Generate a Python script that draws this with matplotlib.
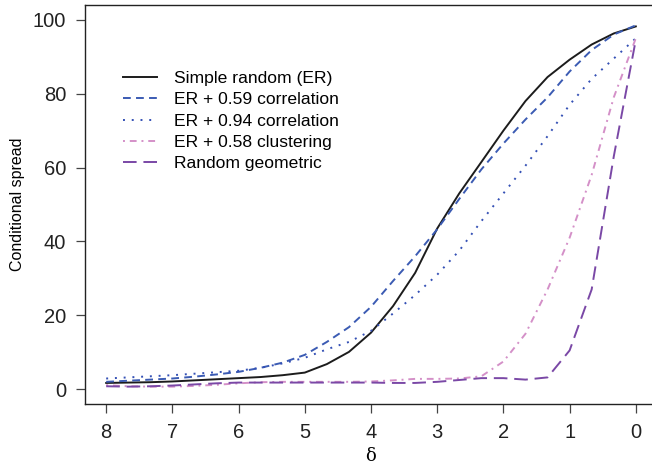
import matplotlib.pyplot as plt

# delta grid, high to low (axis is reversed), step 1/3
delta = [8, 7.667, 7.333, 7, 6.667, 6.333, 6, 5.667, 5.333, 5, 4.667, 4.333,
         4, 3.667, 3.333, 3, 2.667, 2.333, 2, 1.667, 1.333, 1, 0.667, 0.333, 0]

er_simple = [1.7, 1.8, 1.9, 2.1, 2.4, 2.7, 3.0, 3.3, 3.8, 4.5, 6.8, 10.1,
             15.3, 22.5, 31.5, 43.5, 53, 61.5, 70, 78, 84.5, 89.2, 93.3, 96.3, 98.2]
er_corr59 = [2.0, 2.3, 2.6, 2.9, 3.4, 4.0, 4.7, 5.8, 7.2, 9.3, 12.8, 16.8,
             22.3, 29.3, 36, 43.3, 51.5, 59.5, 66.5, 73, 79, 86, 91.8, 96, 98.5]
er_corr94 = [2.9, 3.2, 3.5, 3.8, 4.2, 4.6, 5.0, 5.8, 7.0, 8.5, 10.8, 12.8,
             15.8, 20.5, 25.5, 31, 37.5, 45.5, 53, 60.5, 68.5, 77, 84, 89.5, 95]
er_clust58 = [1.1, 0.8, 0.7, 0.7, 0.9, 1.2, 1.6, 1.9, 2.0, 2.0, 2.0, 2.0,
              2.1, 2.4, 2.8, 2.8, 2.9, 3.5, 7.5, 15, 27, 41, 58, 79, 95]
geometric = [0.8, 0.7, 0.8, 1.0, 1.3, 1.6, 1.8, 1.8, 1.8, 1.8, 1.8, 1.8,
             1.8, 1.7, 1.7, 2.0, 2.5, 3.0, 3.0, 2.6, 3.2, 10.5, 27, 63, 94.6]

series = [
    (er_simple,  "Simple random (ER)",    "#1c1c1c", "-"),
    (er_corr59,  "ER + 0.59 correlation", "#3b5bb3", (0, (4, 2.7))),
    (er_corr94,  "ER + 0.94 correlation", "#3450b5", (0, (1, 3.5))),
    (er_clust58, "ER + 0.58 clustering",  "#d490c8", (0, (1, 2.5, 3.5, 2.5))),
    (geometric,  "Random geometric",      "#7a48a6", (0, (7, 3.5))),
]

plt.rcParams['font.family'] = ['Liberation Sans', 'DejaVu Sans']

fig = plt.figure(figsize=(6.52, 4.66), dpi=100)
ax = fig.add_axes([85 / 652, 1 - 404 / 466, 572 / 652, 399 / 466])

for vals, label, color, ls in series:
    ax.plot(delta, vals, color=color, linestyle=ls, linewidth=1.4, label=label)

ax.set_xlim(8.32, -0.32)
ax.set_ylim(-4, 104)
ax.set_xticks(range(8, -1, -1))
ax.set_yticks(range(0, 101, 20))
ax.tick_params(labelsize=14.5, length=6.5, width=0.9, pad=7,
               color="#444444", labelcolor="#222222")
for s in ax.spines.values():
    s.set_linewidth(1.0)
    s.set_color("#222222")

ax.set_ylabel("Conditional spread", fontsize=11.5, labelpad=6)
ax.set_xlabel("δ", fontsize=13, family=['DejaVu Serif'], labelpad=4)

ax.legend(loc="upper left", bbox_to_anchor=(0.055, 0.853), frameon=False,
          fontsize=12.6, handlelength=1.9, handletextpad=1.0,
          labelspacing=0.35, borderaxespad=0)

fig.savefig("out.png", dpi=100)
